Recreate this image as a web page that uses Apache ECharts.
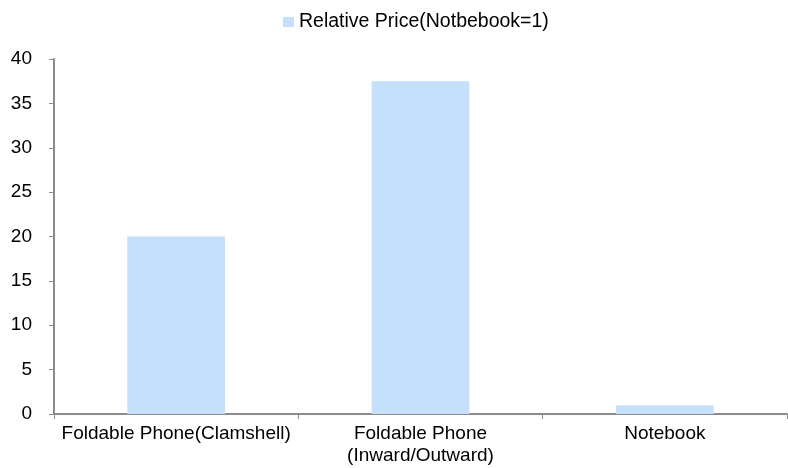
<!DOCTYPE html>
<html>
<head>
<meta charset="utf-8">
<script src="https://cdn.jsdelivr.net/npm/echarts@6/dist/echarts.min.js"></script>
<style>
  html, body { margin: 0; padding: 0; background: #fff; }
  #chart { width: 788px; height: 468px; }
</style>
</head>
<body>
<div id="chart"></div>
<script>
const categories = [
  "Foldable Phone(Clamshell)",
  "Foldable Phone\n(Inward/Outward)",
  "Notebook",
];
const relativePrice = [20, 37.5, 1];
const seriesName = "Relative Price(Notbebook=1)";

const font = "Arial, 'Liberation Sans', sans-serif";
const axisGrey = "#8c8c8c";

const chart = echarts.init(document.getElementById("chart"));
chart.setOption({
  animation: false,
  textStyle: { fontFamily: font, color: "#000" },
  legend: {
    top: 7,
    left: 278,
    icon: "rect",
    itemWidth: 11,
    itemHeight: 10,
    itemGap: 4,
    textStyle: { fontFamily: font, fontSize: 19.5, color: "#000" },
    data: [seriesName],
  },
  grid: { left: 54, right: 1, top: 59, bottom: 54 },
  xAxis: {
    type: "category",
    data: categories,
    axisLine: { lineStyle: { color: axisGrey, width: 2 } },
    axisTick: { show: true, length: 5, lineStyle: { color: axisGrey } },
    axisLabel: {
      color: "#000",
      fontFamily: font,
      fontSize: 19,
      lineHeight: 22,
      margin: 9,
      interval: 0,
    },
  },
  yAxis: {
    type: "value",
    min: 0,
    max: 40,
    interval: 5,
    axisLine: { show: true, lineStyle: { color: axisGrey, width: 2 } },
    axisTick: { show: true, length: 5, lineStyle: { color: axisGrey } },
    axisLabel: { color: "#000", fontFamily: font, fontSize: 19, margin: 22 },
    splitLine: { show: false },
  },
  series: [
    {
      name: seriesName,
      type: "bar",
      data: relativePrice,
      barWidth: "40%",
      itemStyle: { color: "#c5e0fc" },
    },
  ],
});
</script>
</body>
</html>
